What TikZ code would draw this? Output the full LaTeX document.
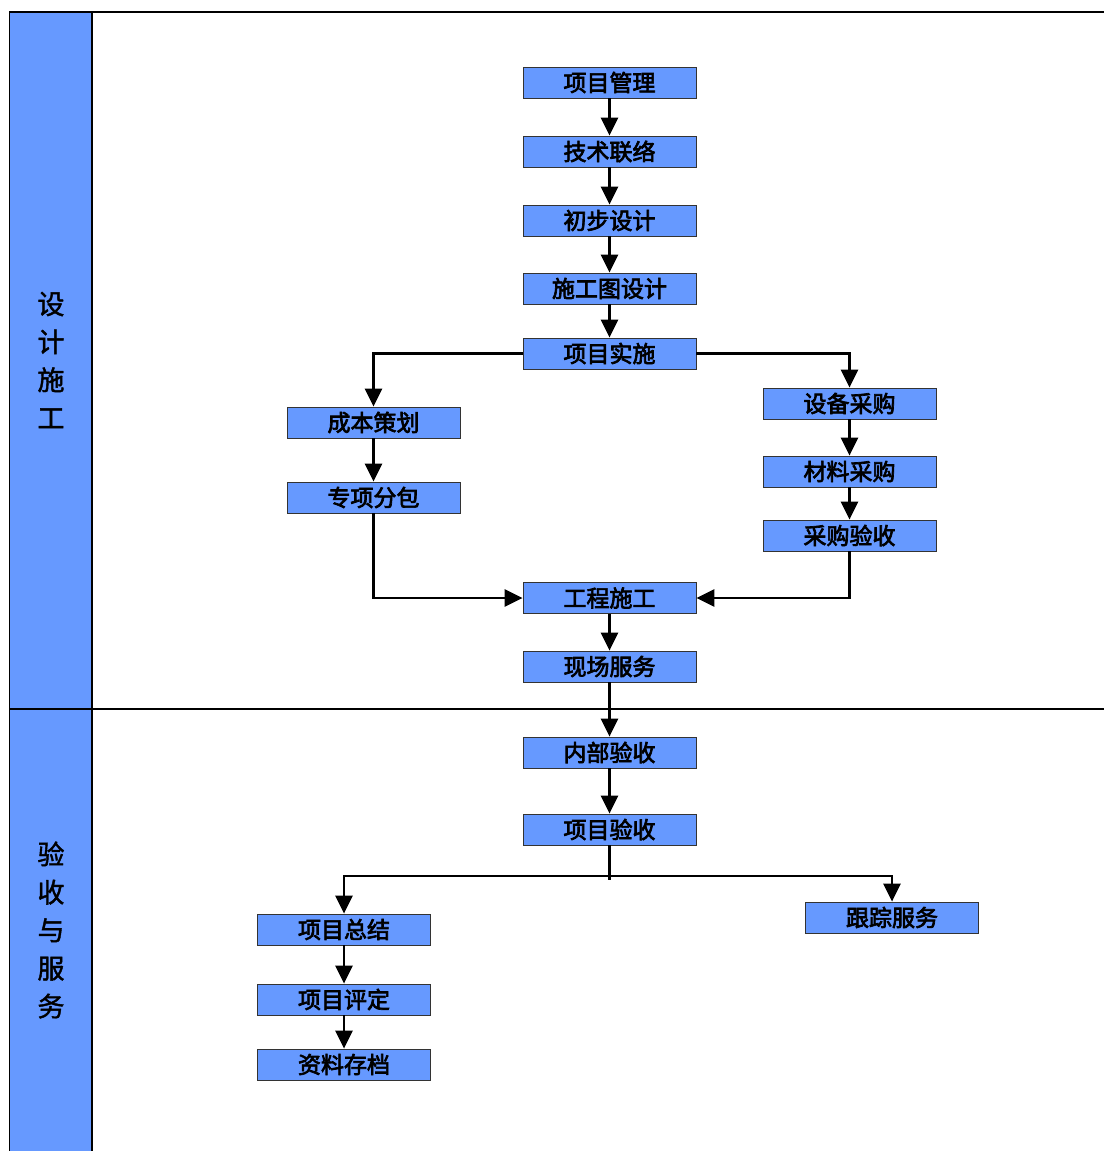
\documentclass[tikz,border=0pt]{standalone}
\usepackage{fontspec}
\newfontfamily\cjk{Noto Sans CJK SC}[FakeBold=1.5]
\newfontfamily\cjkb{Noto Sans CJK SC}[FakeBold=3]
\usetikzlibrary{arrows.meta}
\definecolor{boxblue}{HTML}{6699FF}
\tikzset{
  proc/.style={draw=black!80, line width=0.8pt, fill=boxblue, minimum width=173pt, minimum height=31pt, inner sep=0pt, font=\cjkb\fontsize{23pt}{23pt}\selectfont},
  conn/.style={line width=2.5pt, -{Triangle[length=18pt,width=17pt]}},
  plain/.style={line width=2.5pt},
  lane/.style={font=\cjk\fontsize{27pt}{38pt}\selectfont, align=center}
}
\begin{document}
\begin{tikzpicture}[x=1pt,y=-1pt]
\useasboundingbox (0,0) rectangle (1103,1151);
\fill[white] (0,0) rectangle (1103,1151);
% lanes
\draw[line width=1.2pt, fill=boxblue] (9.5,1160) -- (9.5,12) -- (92,12) -- (92,1160);
\draw[line width=1.2pt] (92,12) -- (1110,12);
\draw[line width=1.2pt] (9.5,709) -- (1110,709);
\node[lane] (l1) at (51,360) {设\\计\\施\\工};
\node[lane] (l2) at (51,930) {验\\收\\与\\服\\务};
% nodes
\node[proc] (a) at (609.5,82.5) {项目管理};
\node[proc] (b) at (609.5,151.5) {技术联络};
\node[proc] (c) at (609.5,220.5) {初步设计};
\node[proc] (d) at (609.5,288.5) {施工图设计};
\node[proc] (e) at (609.5,353.5) {项目实施};
\node[proc] (f) at (373.5,422.5) {成本策划};
\node[proc] (g) at (373.5,497.5) {专项分包};
\node[proc] (h) at (849.5,403.5) {设备采购};
\node[proc] (i) at (849.5,471.5) {材料采购};
\node[proc] (j) at (849.5,535.5) {采购验收};
\node[proc] (k) at (609.5,598) {工程施工};
\node[proc] (m) at (609.5,666.5) {现场服务};
\node[proc] (n) at (609.5,752.5) {内部验收};
\node[proc] (o) at (609.5,829.5) {项目验收};
\node[proc] (p) at (344,929.5) {项目总结};
\node[proc] (q) at (344,999.5) {项目评定};
\node[proc] (r) at (344,1064.5) {资料存档};
\node[proc] (s) at (892,917.5) {跟踪服务};
\coordinate (split) at (609.5,880);
% connectors
\draw[conn] (a) -- (b);
\draw[conn] (b) -- (c);
\draw[conn] (c) -- (d);
\draw[conn] (d) -- (e);
\draw[conn] (e.west) -| (f.north);
\draw[conn] (e.east) -| (h.north);
\draw[conn] (f) -- (g);
\draw[conn] (h) -- (i);
\draw[conn] (i) -- (j);
\draw[conn] (g.south) |- (k.west);
\draw[conn] (j.south) |- (k.east);
\draw[conn] (k) -- (m);
\draw[conn] (m) -- (n);
\draw[conn] (n) -- (o);
\draw[plain] (o.south) -- (split);
\draw[conn] (609.5,876) -| (p.north);
\draw[conn] (609.5,876) -| (s.north);
\draw[conn] (p) -- (q);
\draw[conn] (q) -- (r);
\end{tikzpicture}
\end{document}
